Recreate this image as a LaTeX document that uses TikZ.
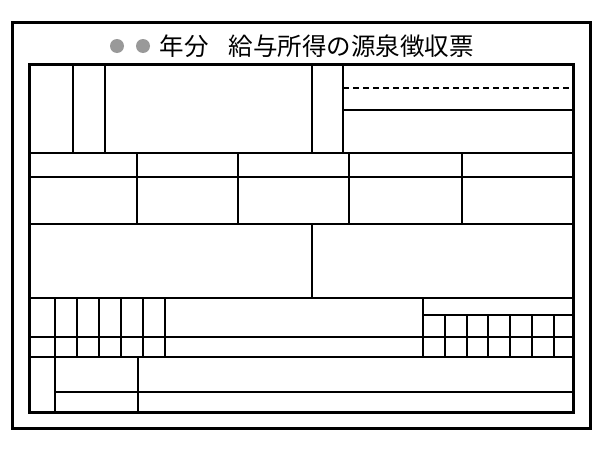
\documentclass[tikz,border=0pt]{standalone}
\usepackage{fontspec}
\newfontfamily\cjk{Noto Sans CJK JP}
\usetikzlibrary{positioning}
\begin{document}
\begin{tikzpicture}
    [
    x=1pt, y=-1pt,
    frame/.style={line width=3pt},
    rule/.style={line width=2.2pt},
    thin/.style={line width=1.6pt},
    dot/.style={circle,fill=black!40,inner sep=0pt,minimum size=14pt},
    title/.style={font=\cjk\fontsize{24.5}{24.5}\selectfont,inner sep=0pt}
    ]
    \useasboundingbox (0,0) rectangle (600,450);
    \draw [frame] (12,22) rectangle (590,428);
    \draw [frame] (29,64) rectangle (573,412);
    % heading
    \node (d1) at (117,46) [dot] {};
    \node (d2) at (143,46) [dot] {};
    \node (year) at (184,46) [title] {年分};
    \node (name) at (351,46) [title] {給与所得の源泉徴収票};
    % top block
    \draw [rule] (73,64) -- (73,153);
    \draw [rule] (105,64) -- (105,153);
    \draw [rule] (312,64) -- (312,153);
    \draw [rule] (343,64) -- (343,153);
    \draw [rule,dash pattern=on 6pt off 4pt] (343,88) -- (573,88);
    \draw [rule] (343,110) -- (573,110);
    \draw [rule] (29,153) -- (573,153);
    % amounts
    \draw [rule] (29,177) -- (573,177);
    \foreach \x in {137,238,349,462}
        \draw [rule] (\x,153) -- (\x,224);
    \draw [rule] (29,224) -- (573,224);
    \draw [rule] (312,224) -- (312,298);
    \draw [rule] (29,298) -- (573,298);
    % lower grids
    \foreach \x in {55,77,99,121,143,165}
        \draw [thin] (\x,298) -- (\x,357);
    \draw [rule] (423,298) -- (423,357);
    \draw [rule] (423,315) -- (573,315);
    \foreach \x in {445,467,488,510,532,554}
        \draw [thin] (\x,315) -- (\x,357);
    \draw [rule] (29,337) -- (573,337);
    \draw [rule] (29,357) -- (573,357);
    % bottom rows
    \draw [rule] (55,357) -- (55,412);
    \draw [rule] (138,357) -- (138,412);
    \draw [rule] (55,392) -- (573,392);
\end{tikzpicture}
\end{document}
